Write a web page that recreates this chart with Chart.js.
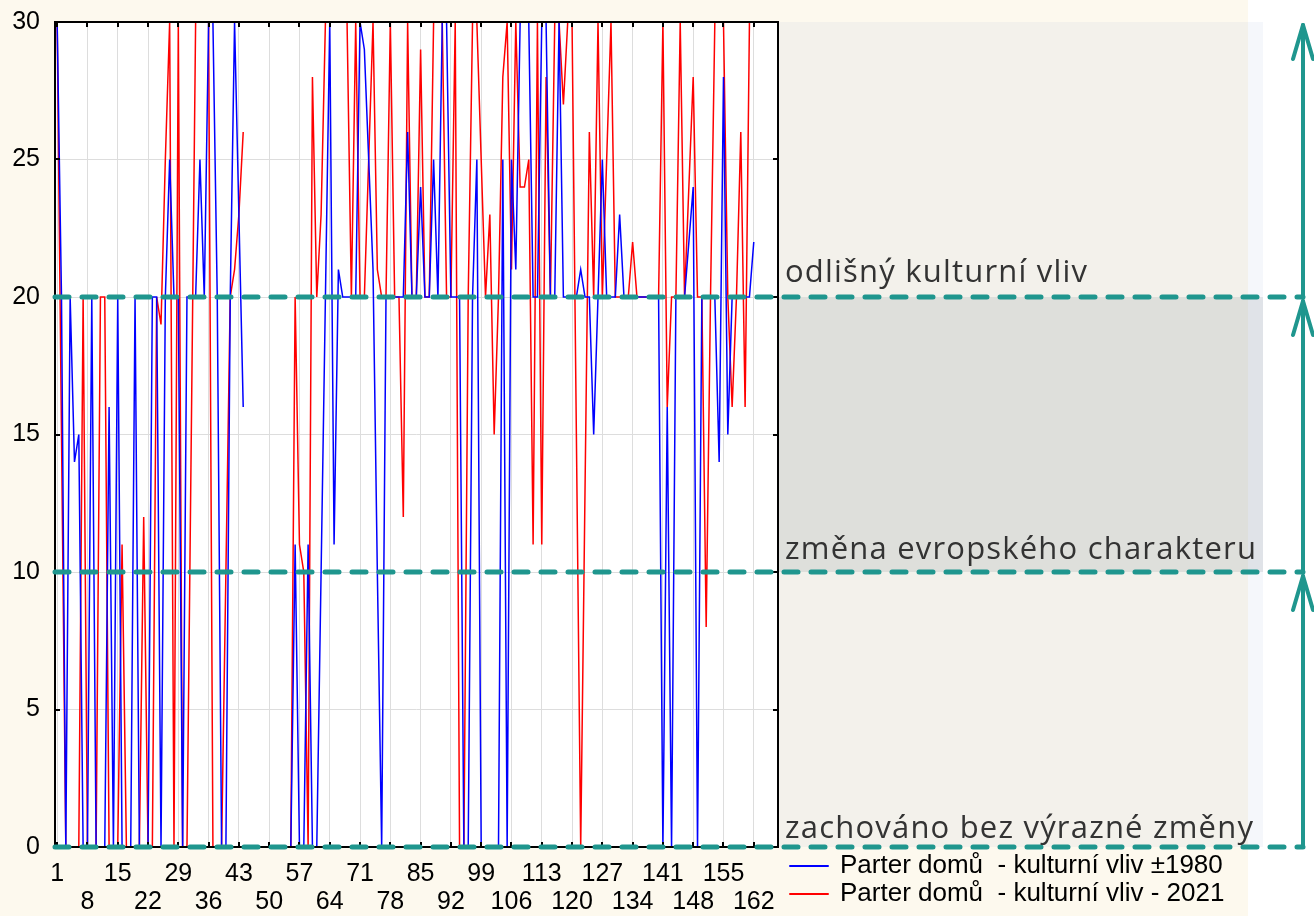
<!DOCTYPE html>
<html>
<head>
<meta charset="utf-8">
<script src="https://cdn.jsdelivr.net/npm/chart.js@4.4.1/dist/chart.umd.min.js"></script>
<style>
  html, body { margin: 0; padding: 0; background: #fff; }
  #wrap { width: 1314px; height: 916px; }
</style>
</head>
<body>
<div id="wrap"><canvas id="chart" width="1314" height="916"></canvas></div>
<script>
// values, house index 1..162 (null = no record)
const blue1980 = [
  30, 20, 0, 20, 14, 15, 0, 0, 20, 0,
  0, 0, 16, 0, 20, 0, 0, 0, 20, 0,
  0, 0, 20, 20, 0, 20, 25, 20, 20, 0,
  20, 20, 20, 25, 20, 30, 30, 20, 0, 0,
  20, 30, 23, 16, null, null, null, null, null, null,
  null, null, null, 0, 0, 11, 0, 0, 11, 0,
  0, 10, 20, 30, 11, 21, 20, 20, 20, 20,
  30, 29, 25, 21, 10, 0, 20, 20, 20, 20,
  20, 26, 20, 20, 24, 20, 20, 25, 20, 30,
  30, 20, 20, 20, 0, 0, 20, 25, 0, 0,
  0, 0, 0, 25, 0, 25, 21, 30, 30, 30,
  20, 20, 30, 30, 20, 20, 30, 20, 20, 20,
  20, 21, 20, 20, 15, 20, 25, 20, 20, 20,
  23, 20, 20, 20, 20, 20, 20, 20, 20, 20,
  0, 16, 0, 20, 20, 20, 22, 24, 0, 20,
  20, 20, 20, 14, 28, 15, 20, 20, 20, 20,
  20, 22
];
const red2021 = [
  30, 15, 0, 0, 0, 0, 20, 0, 0, 0,
  20, 20, 0, 0, 0, 11, 0, 0, 0, 0,
  12, 0, 0, 20, 19, 25, 30, 0, 30, 0,
  0, 15, 30, 30, 30, 30, 0, 0, 0, 10,
  20, 21, 23, 26, null, null, null, null, null, null,
  null, null, null, 0, 0, 20, 11, 10, 0, 28,
  20, 23, 30, 30, 30, 30, 30, 30, 20, 30,
  20, 20, 25, 30, 21, 20, 20, 30, 20, 20,
  12, 30, 20, 20, 29, 20, 20, 30, 30, 30,
  20, 20, 30, 0, 0, 20, 30, 30, 25, 20,
  23, 15, 20, 28, 30, 21, 30, 24, 24, 25,
  11, 30, 11, 28, 20, 30, 30, 27, 30, 30,
  15, 0, 13, 26, 20, 30, 20, 25, 30, 20,
  20, 20, 20, 22, 20, 20, 20, 20, 20, 20,
  30, 16, 20, 20, 30, 20, 24, 28, 20, 20,
  8, 20, 30, 30, 30, 20, 16, 20, 26, 16,
  30, 30
];
const xTicks = [1, 8, 15, 22, 29, 36, 43, 50, 57, 64, 71, 78, 85, 92, 99, 106, 113, 120, 127, 134, 141, 148, 155, 162];
const yTicks = [0, 5, 10, 15, 20, 25, 30];
const zoneLevels = [0, 10, 20];
const zoneLabels = ['zachováno bez výrazné změny', 'změna evropského charakteru', 'odlišný kulturní vliv'];
const seriesNames = ['Parter domů  - kulturní vliv ±1980', 'Parter domů  - kulturní vliv - 2021'];

const teal = '#1f968e';
const tickFont = 'Liberation Sans, Arial, sans-serif';

function toPoints(arr) {
  return arr.map((v, i) => ({ x: i + 1, y: v }));
}

// backgrounds, frame, zone lines, arrows, labels and legend
const decor = {
  id: 'decor',
  beforeDraw(chart) {
    const ctx = chart.ctx, a = chart.chartArea, y = chart.scales.y;
    ctx.save();
    ctx.fillStyle = '#fdf9ee';
    ctx.fillRect(0, 0, 1248, chart.height);
    ctx.fillStyle = '#ffffff';
    ctx.fillRect(1248, 0, chart.width - 1248, chart.height);
    ctx.fillRect(a.left, a.top, a.right - a.left, a.bottom - a.top);
    // grey box on the right
    const boxL = a.right, boxR = 1263;
    ctx.fillStyle = 'rgba(130,150,200,0.08)';
    ctx.fillRect(boxL, a.top, boxR - boxL, a.bottom - a.top);
    const y20 = y.getPixelForValue(20), y10 = y.getPixelForValue(10);
    ctx.fillStyle = 'rgba(150,160,165,0.22)';
    ctx.fillRect(boxL, y20, boxR - boxL, y10 - y20);
    ctx.restore();
  },
  afterDraw(chart) {
    const ctx = chart.ctx, a = chart.chartArea, x = chart.scales.x, y = chart.scales.y;
    ctx.save();
    // frame + inward ticks
    ctx.strokeStyle = '#000';
    ctx.lineWidth = 2;
    ctx.strokeRect(a.left, a.top, a.right - a.left, a.bottom - a.top);
    ctx.beginPath();
    xTicks.forEach(v => {
      const px = Math.round(x.getPixelForValue(v));
      ctx.moveTo(px, a.top); ctx.lineTo(px, a.top + 5);
      ctx.moveTo(px, a.bottom); ctx.lineTo(px, a.bottom - 5);
    });
    yTicks.forEach(v => {
      const py = Math.round(y.getPixelForValue(v));
      ctx.moveTo(a.left, py); ctx.lineTo(a.left + 5, py);
      ctx.moveTo(a.right, py); ctx.lineTo(a.right - 5, py);
    });
    ctx.stroke();

    // dashed zone lines
    const arrowX = 1303;
    ctx.strokeStyle = teal;
    ctx.lineCap = 'round';
    ctx.lineWidth = 5;
    ctx.setLineDash([14, 13]);
    zoneLevels.forEach(v => {
      const py = y.getPixelForValue(v);
      ctx.beginPath();
      ctx.moveTo(a.left, py);
      ctx.lineTo(arrowX, py);
      ctx.stroke();
    });

    // arrows
    ctx.setLineDash([]);
    ctx.lineWidth = 4;
    ctx.lineJoin = 'round';
    const tops = [10, 20, 30];
    zoneLevels.forEach((v, k) => {
      const y0 = y.getPixelForValue(v);
      const tip = y.getPixelForValue(tops[k]) + (k === 2 ? 3 : 4);
      ctx.beginPath();
      ctx.moveTo(arrowX, y0);
      ctx.lineTo(arrowX, tip);
      ctx.stroke();
      ctx.beginPath();
      ctx.moveTo(arrowX - 10, tip + 34);
      ctx.lineTo(arrowX, tip);
      ctx.lineTo(arrowX + 10, tip + 34);
      ctx.stroke();
    });

    // zone labels
    ctx.fillStyle = '#333';
    ctx.font = '31px "Open Sans", sans-serif';
    ctx.letterSpacing = '1.2px';
    ctx.textBaseline = 'alphabetic';
    ctx.textAlign = 'left';
    const lift = [9, 13, 15];
    zoneLevels.forEach((v, k) => {
      ctx.fillText(zoneLabels[k], 785, y.getPixelForValue(v) - lift[k]);
    });
    ctx.letterSpacing = '0px';

    // legend
    const legendCol = ['#0000ff', '#ff0000'];
    ctx.font = '26px ' + tickFont;
    ctx.textBaseline = 'middle';
    ctx.fillStyle = '#000';
    seriesNames.forEach((name, k) => {
      const ly = 866 + k * 28;
      ctx.strokeStyle = legendCol[k];
      ctx.lineWidth = 2;
      ctx.beginPath();
      ctx.moveTo(790, ly);
      ctx.lineTo(828, ly);
      ctx.stroke();
      ctx.fillText(name, 840, ly);
    });
    ctx.restore();
  }
};

new Chart(document.getElementById('chart'), {
  type: 'line',
  data: {
    datasets: [
      { label: seriesNames[0], data: toPoints(blue1980), borderColor: '#0000ff', borderWidth: 1.5, pointRadius: 0, spanGaps: false, tension: 0 },
      { label: seriesNames[1], data: toPoints(red2021), borderColor: '#ff0000', borderWidth: 1.5, pointRadius: 0, spanGaps: false, tension: 0 }
    ]
  },
  options: {
    responsive: false,
    animation: false,
    devicePixelRatio: 1,
    layout: { padding: { left: 0, right: 536, top: 22, bottom: 0 } },
    plugins: { legend: { display: false }, tooltip: { enabled: false } },
    scales: {
      x: {
        type: 'linear',
        min: 0.5,
        max: 167.6,
        afterBuildTicks: s => { s.ticks = xTicks.map(v => ({ value: v })); },
        afterFit: s => { s.height = 69; s.paddingLeft = 0; s.paddingRight = 0; },
        grid: { color: '#dddddd', lineWidth: 1, drawTicks: false },
        border: { display: false },
        ticks: {
          autoSkip: false,
          maxRotation: 0,
          padding: 13,
          color: '#000',
          font: { family: tickFont, size: 25, lineHeight: 1.12 },
          callback: (v, i) => (i % 2 ? ['', String(v)] : String(v))
        }
      },
      y: {
        min: 0,
        max: 30,
        afterBuildTicks: s => { s.ticks = yTicks.map(v => ({ value: v })); },
        afterFit: s => { s.width = 55; s.paddingTop = 0; s.paddingBottom = 0; },
        grid: { color: '#dddddd', lineWidth: 1, drawTicks: false },
        border: { display: false },
        ticks: {
          padding: 15,
          color: '#000',
          font: { family: tickFont, size: 25 }
        }
      }
    }
  },
  plugins: [decor]
});
</script>
</body>
</html>
